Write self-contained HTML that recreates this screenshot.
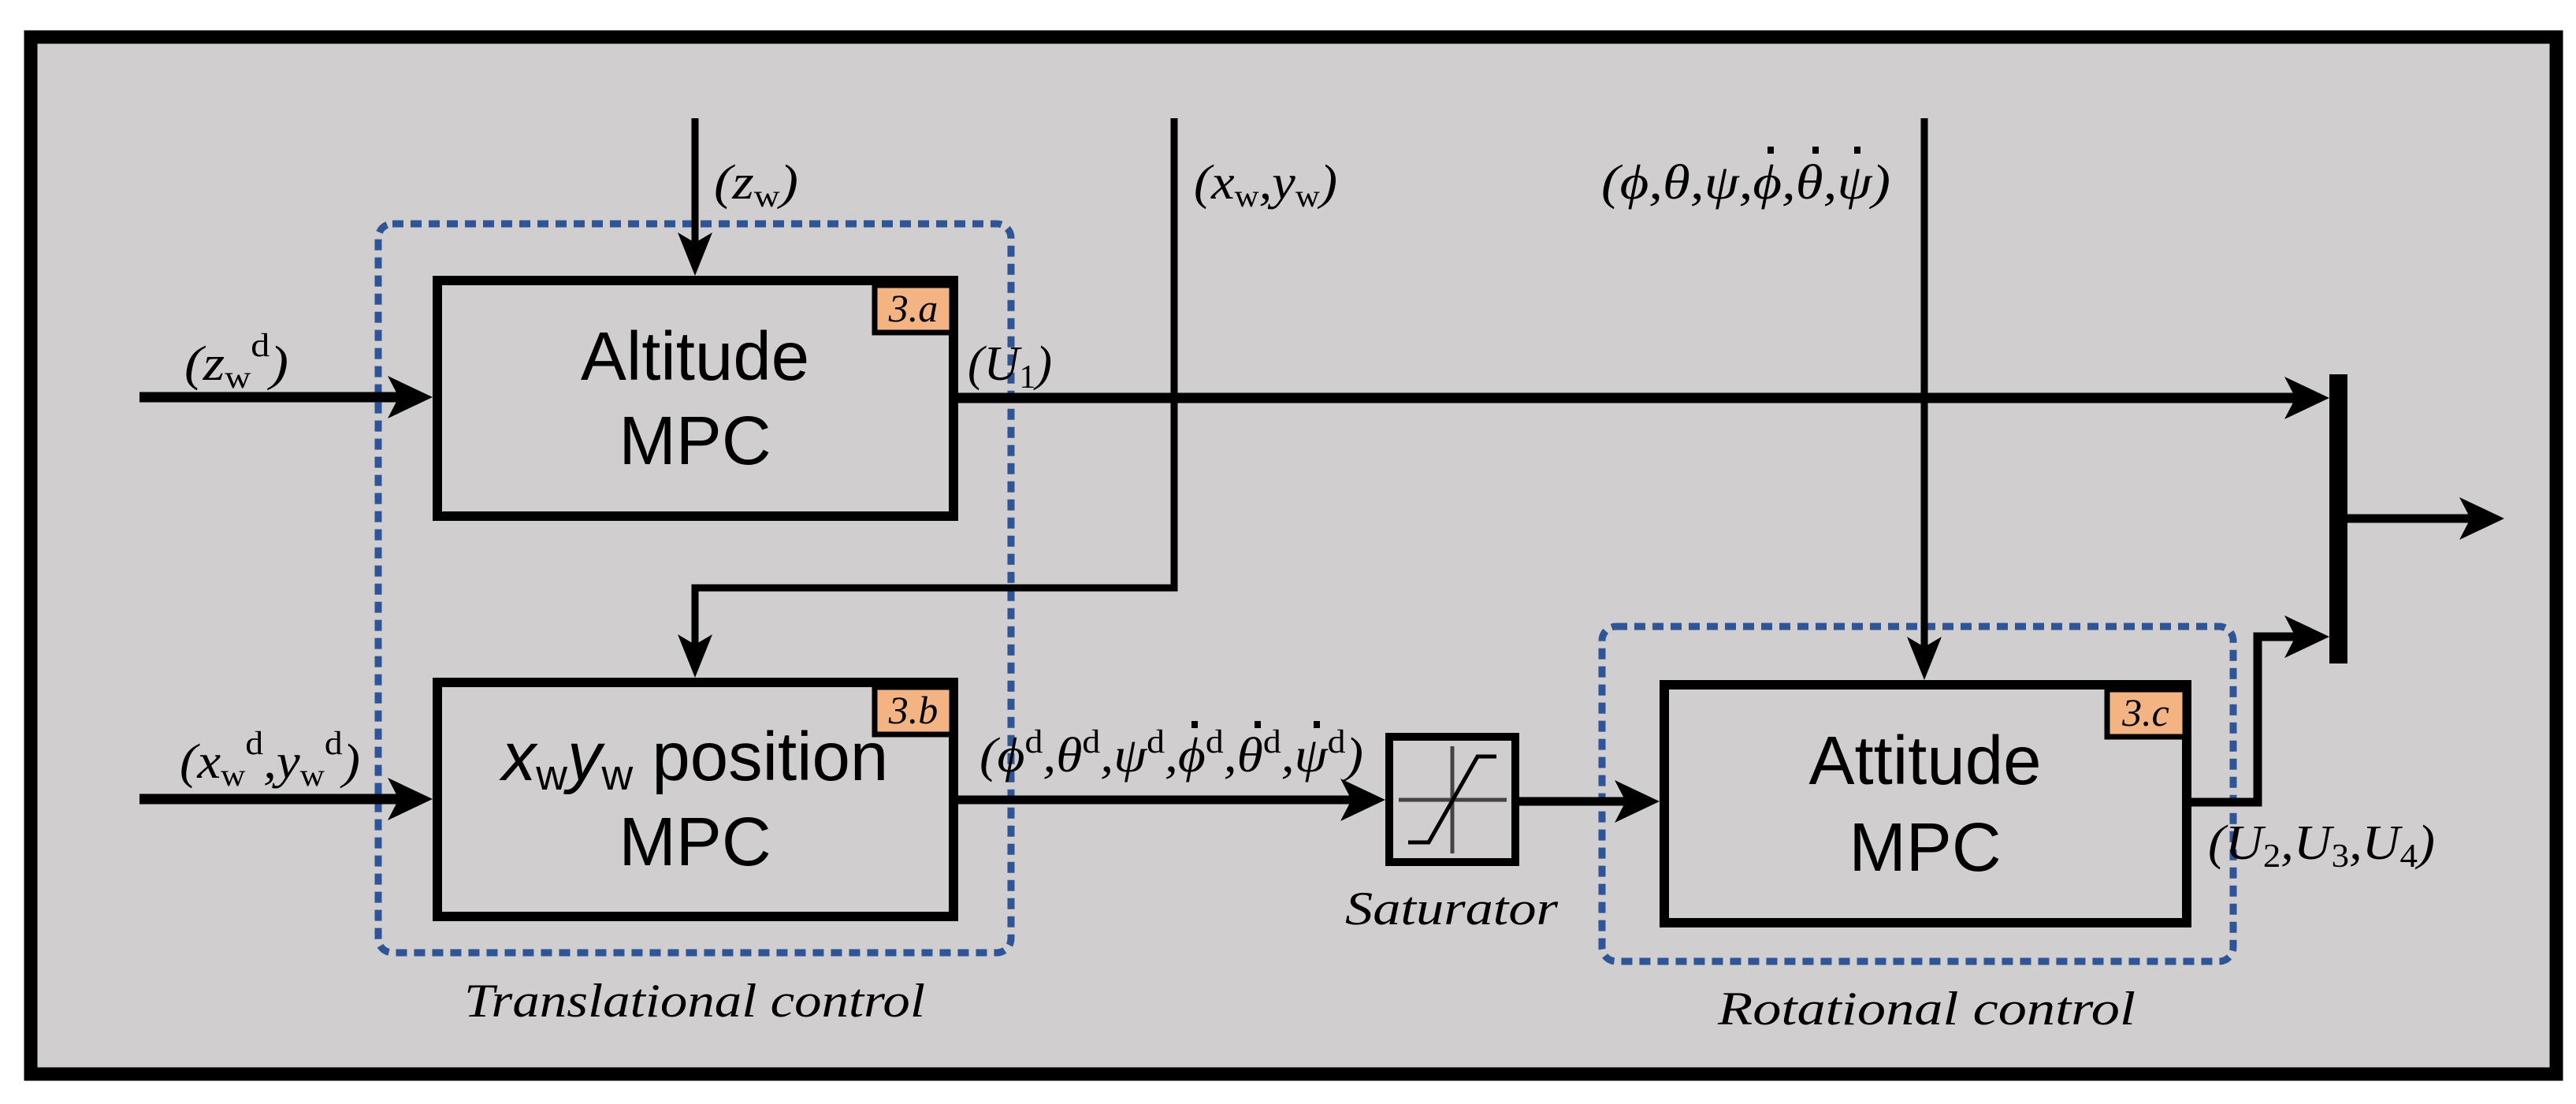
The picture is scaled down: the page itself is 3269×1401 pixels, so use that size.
<!DOCTYPE html>
<html><head><meta charset="utf-8"><style>
html,body{margin:0;padding:0;background:#fff;}
svg{display:block;}
.m{font-family:"Liberation Serif",serif;font-style:italic;font-size:62px;fill:#000;}
.u{font-style:normal;}
.b{font-family:"Liberation Sans",sans-serif;font-size:87px;fill:#000;text-anchor:middle;}
.c{font-family:"Liberation Serif",serif;font-style:italic;font-size:60px;fill:#000;}
.badge{font-family:"Liberation Serif",serif;font-style:italic;font-size:50px;fill:#000;text-anchor:middle;}
</style></head><body>
<svg width="3269" height="1401" viewBox="0 0 3269 1401" xmlns="http://www.w3.org/2000/svg">
<rect x="0" y="0" width="3269" height="1401" fill="#fff"/>
<rect x="39" y="47" width="3205" height="1316" fill="#d0cecf" stroke="#000" stroke-width="17"/>

<g fill="none" stroke="#2f5597" stroke-width="9" stroke-dasharray="14 9">
<rect x="480" y="284" width="803" height="925" rx="18"/>
<rect x="2033" y="795" width="801" height="425" rx="18"/>
</g>

<g stroke="#000" fill="none" stroke-linecap="butt">
<line x1="882" y1="150" x2="882" y2="310" stroke-width="9"/>
<line x1="177" y1="504" x2="515" y2="504" stroke-width="13"/>
<line x1="177" y1="1014" x2="515" y2="1014" stroke-width="13"/>
<polyline points="1490,150 1490,746 882,746 882,820" stroke-width="9"/>
<line x1="2442" y1="150" x2="2442" y2="823" stroke-width="9"/>
<line x1="1216" y1="505" x2="2920" y2="505" stroke-width="13"/>
<line x1="1216" y1="1015" x2="1722" y2="1015" stroke-width="11"/>
<line x1="1928" y1="1017" x2="2070" y2="1017" stroke-width="11"/>
<polyline points="2781,1018 2865,1018 2865,808 2920,808" stroke-width="11"/>
<line x1="2979" y1="658" x2="3140" y2="658" stroke-width="11"/>
</g>
<rect x="2956" y="475" width="23" height="367" fill="#000"/>

<g fill="#000">
<polygon points="882,350 860,295 882,308 904,295"/>
<polygon points="882,860 860,805 882,818 904,805"/>
<polygon points="2442,863 2420,808 2442,821 2464,808"/>
<polygon points="549,504 492,477 506,504 492,531"/>
<polygon points="549,1014 492,987 506,1014 492,1041"/>
<polygon points="1758,1015 1701,988 1715,1015 1701,1042"/>
<polygon points="2106,1017 2049,990 2063,1017 2049,1044"/>
<polygon points="2956,505 2899,478 2913,505 2899,532"/>
<polygon points="2956,808 2899,781 2913,808 2899,835"/>
<polygon points="3178,658 3121,631 3135,658 3121,685"/>
</g>

<g fill="none" stroke="#000" stroke-width="12">
<rect x="555" y="356" width="655" height="299"/>
<rect x="555" y="866" width="655" height="297"/>
<rect x="2112" y="869" width="663" height="302"/>
</g>
<g fill="#f4b383" stroke="#000" stroke-width="7">
<rect x="1110" y="362" width="98" height="60"/>
<rect x="1110" y="872" width="98" height="60"/>
<rect x="2674" y="875" width="99" height="60"/>
</g>
<text class="badge" x="1159" y="408">3.a</text>
<text class="badge" x="1159" y="918">3.b</text>
<text class="badge" x="2723" y="921">3.c</text>

<text class="b" x="882" y="482">Altitude</text>
<text class="b" x="882" y="589">MPC</text>
<text class="b" x="882" y="990"><tspan font-style="italic">x</tspan><tspan font-size="55" dy="12">w</tspan><tspan font-style="italic" dy="-12">y</tspan><tspan font-size="55" dy="12">w</tspan><tspan dy="-12"> position</tspan></text>
<text class="b" x="882" y="1098">MPC</text>
<text class="b" x="2443" y="995">Attitude</text>
<text class="b" x="2443" y="1105">MPC</text>

<rect x="1763" y="935" width="160" height="159" fill="none" stroke="#000" stroke-width="10"/>
<line x1="1775" y1="1015" x2="1912" y2="1015" stroke="#444" stroke-width="5"/>
<line x1="1843" y1="947" x2="1843" y2="1083" stroke="#444" stroke-width="5"/>
<polyline points="1787,1069 1813,1069 1875,960 1899,960" fill="none" stroke="#000" stroke-width="5"/>
<text class="c" x="1707" y="1173" textLength="270" lengthAdjust="spacingAndGlyphs">Saturator</text>
<text class="c" x="589" y="1290" textLength="585" lengthAdjust="spacingAndGlyphs">Translational control</text>
<text class="c" x="2180" y="1300" textLength="530" lengthAdjust="spacingAndGlyphs">Rotational control</text>

<!-- math labels -->
<text class="m" x="906" y="252" textLength="107" lengthAdjust="spacingAndGlyphs">(z<tspan class="u" font-size="40" dy="10">w</tspan><tspan dy="-10">)</tspan></text>
<text class="m" x="1515" y="252" textLength="182" lengthAdjust="spacingAndGlyphs">(x<tspan class="u" font-size="40" dy="10">w</tspan><tspan dy="-10">,y</tspan><tspan class="u" font-size="40" dy="10">w</tspan><tspan dy="-10">)</tspan></text>
<text class="m" x="2032" y="252" textLength="367" lengthAdjust="spacingAndGlyphs">(ϕ,θ,ψ,ϕ,θ,ψ)</text>
<g fill="#000"><rect x="2243" y="186" width="8" height="9"/><rect x="2300" y="186" width="8" height="9"/><rect x="2353" y="186" width="8" height="9"/></g>
<text class="m" x="234" y="482" textLength="132" lengthAdjust="spacingAndGlyphs">(z<tspan class="u" font-size="40" dy="10">w</tspan><tspan class="u" font-size="42" dy="-40">d</tspan><tspan dy="30">)</tspan></text>
<text class="m" x="1228" y="482" textLength="107" lengthAdjust="spacingAndGlyphs">(U<tspan class="u" font-size="42" dy="10">1</tspan><tspan dy="-10">)</tspan></text>
<text class="m" x="228" y="987" textLength="229" lengthAdjust="spacingAndGlyphs">(x<tspan class="u" font-size="40" dy="10">w</tspan><tspan class="u" font-size="42" dy="-40">d</tspan><tspan dy="30">,y</tspan><tspan class="u" font-size="40" dy="10">w</tspan><tspan class="u" font-size="42" dy="-40">d</tspan><tspan dy="30">)</tspan></text>
<text class="m" x="1243" y="979" textLength="487" lengthAdjust="spacingAndGlyphs">(ϕ<tspan class="u" font-size="42" dy="-24">d</tspan><tspan dy="24">,θ</tspan><tspan class="u" font-size="42" dy="-24">d</tspan><tspan dy="24">,ψ</tspan><tspan class="u" font-size="42" dy="-24">d</tspan><tspan dy="24">,ϕ</tspan><tspan class="u" font-size="42" dy="-24">d</tspan><tspan dy="24">,θ</tspan><tspan class="u" font-size="42" dy="-24">d</tspan><tspan dy="24">,ψ</tspan><tspan class="u" font-size="42" dy="-24">d</tspan><tspan dy="24">)</tspan></text>
<g fill="#000"><rect x="1512" y="915" width="8" height="9"/><rect x="1592" y="915" width="8" height="9"/><rect x="1667" y="915" width="8" height="9"/></g>
<text class="m" x="2802" y="1090" textLength="288" lengthAdjust="spacingAndGlyphs">(U<tspan class="u" font-size="42" dy="10">2</tspan><tspan dy="-10">,U</tspan><tspan class="u" font-size="42" dy="10">3</tspan><tspan dy="-10">,U</tspan><tspan class="u" font-size="42" dy="10">4</tspan><tspan dy="-10">)</tspan></text>
</svg>
</body></html>
